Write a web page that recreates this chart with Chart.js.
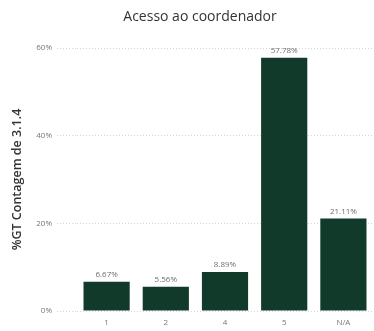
<!DOCTYPE html>
<html>
<head>
<meta charset="utf-8">
<script src="https://cdn.jsdelivr.net/npm/chart.js@4.4.1/dist/chart.umd.min.js"></script>
<style>
  html, body { margin: 0; padding: 0; background: #ffffff; }
  #wrap { position: relative; width: 374px; height: 331px; }
</style>
</head>
<body>
<div id="wrap"><canvas id="chart" width="374" height="331"></canvas></div>
<script>
const chartTitle = 'Acesso ao coordenador';
const categories = ['1', '2', '4', '5', 'N/A'];
const shares = [6.67, 5.56, 8.89, 57.78, 21.11];
const yTicks = [0, 20, 40, 60];
const yAxisTitle = '%GT Contagem de 3.1.4';

const barColor = '#113a2b';
const fontFamily = "'Open Sans', 'Noto Sans', sans-serif";

const fmtPct = v => v.toFixed(2) + '%';

// Title drawn above the plot, centred a little left of the canvas middle
const titlePlugin = {
  id: 'topTitle',
  afterDraw(chart) {
    const ctx = chart.ctx;
    ctx.save();
    ctx.font = '14px ' + fontFamily;
    ctx.fillStyle = '#333333';
    ctx.textAlign = 'center';
    ctx.textBaseline = 'middle';
    ctx.fillText(chartTitle, 200, 17);
    ctx.restore();
  }
};

// Value labels above each bar
const valueLabels = {
  id: 'valueLabels',
  afterDatasetsDraw(chart) {
    const ctx = chart.ctx;
    const meta = chart.getDatasetMeta(0);
    ctx.save();
    ctx.font = '8px ' + fontFamily;
    ctx.fillStyle = '#6f6f6f';
    ctx.textAlign = 'center';
    ctx.textBaseline = 'bottom';
    meta.data.forEach((bar, i) => {
      ctx.fillText(fmtPct(shares[i]), bar.x, bar.y - 3);
    });
    ctx.restore();
  }
};

new Chart(document.getElementById('chart'), {
  type: 'bar',
  data: {
    labels: categories,
    datasets: [{
      data: shares,
      backgroundColor: barColor,
      borderWidth: 0,
      categoryPercentage: 0.78,
      barPercentage: 1.0
    }]
  },
  options: {
    responsive: false,
    animation: false,
    layout: { padding: { top: 48, right: 1, bottom: 0, left: 0 } },
    plugins: {
      legend: { display: false },
      tooltip: { enabled: false }
    },
    scales: {
      x: {
        afterFit(scale) { scale.height = 20; },
        grid: { display: false, drawTicks: false, tickLength: 0 },
        border: { display: false },
        ticks: {
          color: '#777777',
          font: { family: fontFamily, size: 8 },
          padding: 7
        }
      },
      y: {
        min: 0,
        max: 60,
        afterBuildTicks(scale) {
          scale.ticks = yTicks.map(v => ({ value: v }));
        },
        afterFit(scale) { scale.width = 77; },
        border: { display: false, dash: [1, 2] },
        grid: {
          color: '#d6d6d6',
          lineWidth: 1,
          tickBorderDash: [1, 2],
          tickColor: '#d6d6d6',
          tickLength: 20,
          drawTicks: true
        },
        ticks: {
          color: '#777777',
          font: { family: fontFamily, size: 8 },
          padding: 5,
          callback: v => v + '%'
        },
        title: {
          display: true,
          text: yAxisTitle,
          color: '#333333',
          font: { family: fontFamily, size: 12.5, weight: '600' },
          padding: { top: 10, bottom: 0 }
        }
      }
    }
  },
  plugins: [titlePlugin, valueLabels]
});
</script>
</body>
</html>
